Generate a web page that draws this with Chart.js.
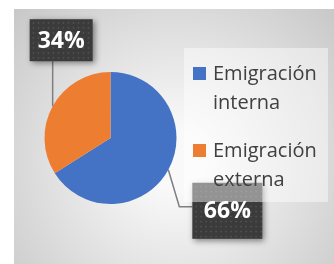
<!DOCTYPE html>
<html>
<head>
<meta charset="utf-8">
<script src="https://cdn.jsdelivr.net/npm/chart.js@4"></script>
<style>
html, body { margin: 0; padding: 0; background: #fff; }
</style>
</head>
<body>
<canvas id="myChart" width="334" height="264"></canvas>
<script>
// Datos del gráfico
const categorias = ['Emigración interna', 'Emigración externa'];
const valores = [66, 34];
const colores = ['#4472C4', '#ED7D31'];

// Posición de las etiquetas respecto al borde de cada sector (estilo, no datos)
const estiloEtiquetas = [
  { dx: 24, dy: 13, w: 70, h: 56, codo: [11, 37] },   // 66%
  { dx: -23, dy: -87, w: 63, h: 42, codo: null }      // 34%
];

const fondo = {
  id: 'fondo',
  beforeDraw(chart) {
    const c = chart.ctx;
    c.save();
    c.fillStyle = '#fff';
    c.fillRect(0, 0, chart.width, chart.height);
    const g = c.createRadialGradient(175, 160, 30, 175, 160, 235);
    g.addColorStop(0, '#f9f9f9');
    g.addColorStop(1, '#c4c4c4');
    c.fillStyle = g;
    c.fillRect(14, 9, chart.width - 14, chart.height - 9);
    c.restore();
  }
};

const etiquetas = {
  id: 'etiquetas',
  afterDatasetsDraw(chart) {
    const c = chart.ctx;
    const ds = chart.data.datasets[0];
    const total = ds.data.reduce((a, b) => a + b, 0);
    chart.getDatasetMeta(0).data.forEach((arc, i) => {
      const e = estiloEtiquetas[i];
      const mid = (arc.startAngle + arc.endAngle) / 2;
      const ax = arc.x + Math.cos(mid) * arc.outerRadius;
      const ay = arc.y + Math.sin(mid) * arc.outerRadius;
      const bx = ax + e.dx, by = ay + e.dy;
      c.save();
      // línea guía
      c.strokeStyle = '#7f7f7f';
      c.lineWidth = 1.5;
      c.beginPath();
      c.moveTo(ax, ay);
      if (e.codo) {
        c.lineTo(ax + e.codo[0], ay + e.codo[1]);
        c.lineTo(bx, ay + e.codo[1]);
      } else {
        c.lineTo(ax, by + e.h);
      }
      c.stroke();
      // caja
      c.shadowColor = 'rgba(0,0,0,0.45)';
      c.shadowBlur = 6;
      c.shadowOffsetX = 2;
      c.shadowOffsetY = 2;
      c.fillStyle = '#3b3b3b';
      c.fillRect(bx, by, e.w, e.h);
      c.shadowColor = 'transparent';
      c.fillStyle = 'rgba(255,255,255,0.13)';
      for (let x = bx + 3; x < bx + e.w - 1; x += 5) {
        for (let y = by + 3; y < by + e.h - 1; y += 5) {
          c.fillRect(x, y, 1.5, 1.5);
        }
      }
      c.fillStyle = '#fff';
      c.font = 'bold 23px "Open Sans"';
      c.textAlign = 'center';
      c.textBaseline = 'middle';
      const pct = Math.round(ds.data[i] / total * 100) + '%';
      c.fillText(pct, bx + e.w / 2, by + e.h / 2 + 1);
      c.restore();
    });
  }
};

const leyenda = {
  id: 'leyenda',
  afterDraw(chart) {
    const c = chart.ctx;
    const ds = chart.data.datasets[0];
    c.save();
    c.fillStyle = 'rgba(255,255,255,0.45)';
    c.fillRect(184, 48, 144, 154);
    c.font = '20px "Open Sans"';
    c.textBaseline = 'alphabetic';
    chart.data.labels.forEach((lab, i) => {
      const y0 = 80 + i * 77;
      c.fillStyle = ds.backgroundColor[i];
      c.fillRect(193, y0 - 13, 13, 13);
      c.fillStyle = '#404040';
      lab.split(' ').forEach((w, j) => {
        c.fillText(w, 213, y0 + j * 29);
      });
    });
    c.restore();
  }
};

const ctx = document.getElementById('myChart').getContext('2d');
const chart = new Chart(ctx, {
  type: 'pie',
  data: {
    labels: categorias,
    datasets: [{
      data: valores,
      backgroundColor: colores,
      borderWidth: 0
    }]
  },
  options: {
    responsive: false,
    animation: false,
    layout: { padding: { left: 44.5, right: 157.5, top: 72, bottom: 60 } },
    plugins: {
      legend: { display: false },
      tooltip: { enabled: false }
    }
  },
  plugins: [fondo, etiquetas, leyenda]
});
</script>
</body>
</html>
